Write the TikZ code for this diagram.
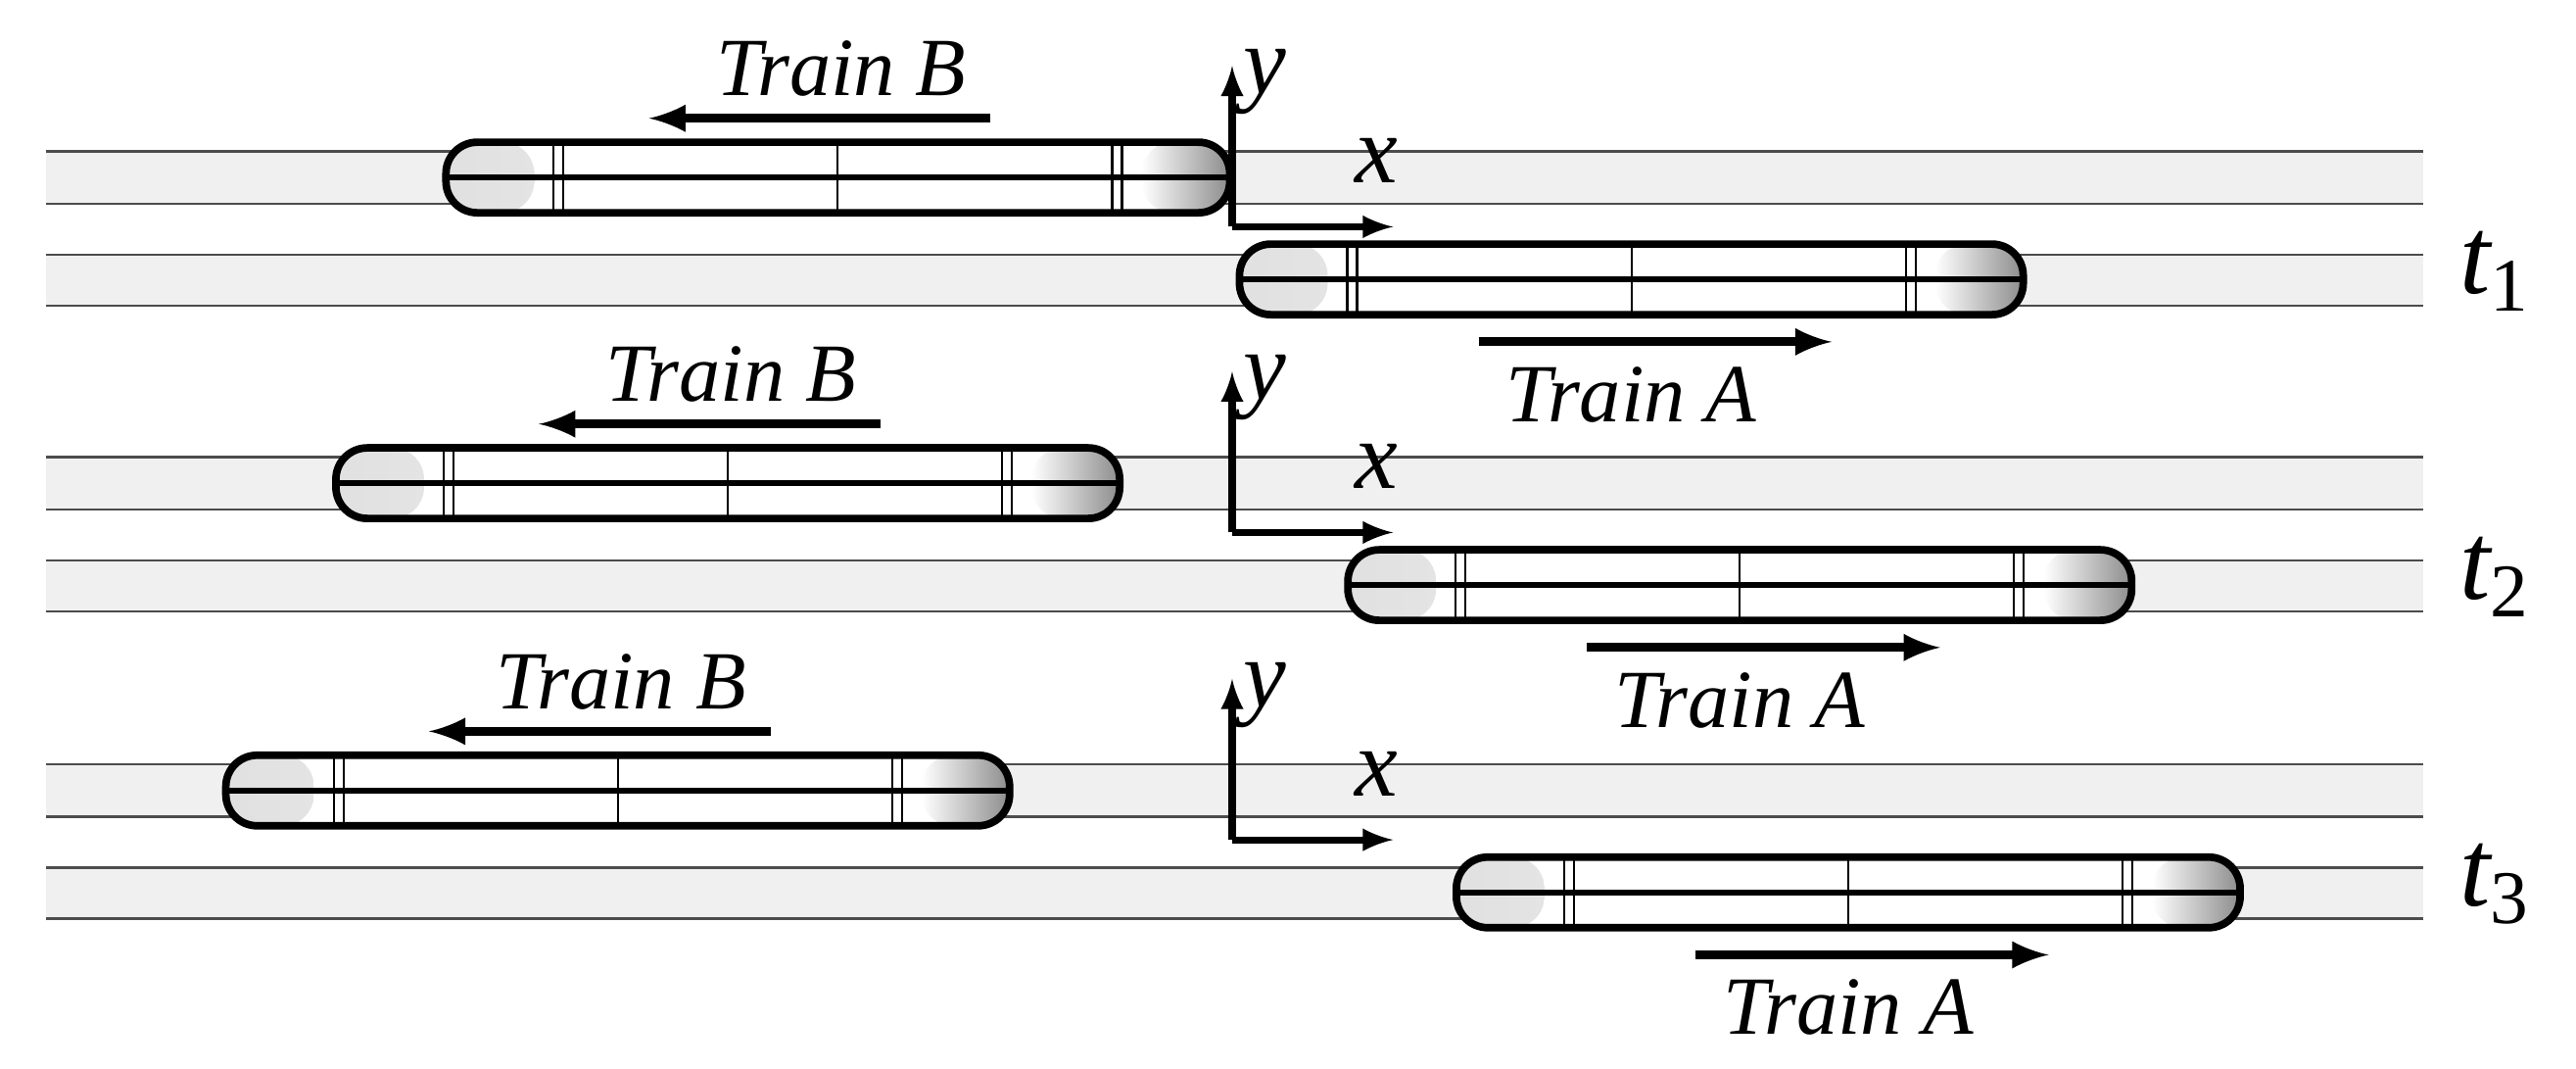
\documentclass[tikz,border=0pt]{standalone}
\usepackage{fontspec}
\setmainfont{Liberation Serif}
\usetikzlibrary{positioning}
\tikzset{
  band/.style={fill=black!6},
  rail/.style={draw=black!70, line width=0.8pt},
  train/.style={draw=black, line width=2.2pt, rounded corners=0.32cm, fill=white,
    minimum width=8cm, minimum height=0.72cm, inner sep=0pt,
    path picture={
      \shade[left color=black!12, right color=white] (path picture bounding box.south west) rectangle ++(0.9cm,0.72cm);
      \shade[left color=white, right color=black!45] (path picture bounding box.north east) rectangle ++(-0.9cm,-0.72cm);
      \draw[line width=1.6pt] (path picture bounding box.west) -- (path picture bounding box.east);
      \foreach \u in {1.1,1.2,6.8,6.9}
        \draw[line width=0.6pt] ([xshift=\u cm]path picture bounding box.south west) -- ++(0cm,0.72cm);
      \draw[line width=0.6pt] (path picture bounding box.south) -- (path picture bounding box.north);
    }},
  move/.style={-latex, line width=2.6pt},
  lbl/.style={font=\itshape\fontsize{24}{26}\selectfont, inner sep=0pt},
  axis/.style={-latex, line width=2pt}
}
\begin{document}
\begin{tikzpicture}[x=0.01677cm, y=-0.01677cm]
  \useasboundingbox (0,0) rectangle (1568,650);
  \foreach \i/\dy/\bx/\ax in {1/0/272/754, 2/186/205/820, 3/373/138/886}{
    % tracks
    \fill[band] (28,92+\dy) rectangle (1475,124+\dy);
    \fill[band] (28,155+\dy) rectangle (1475,186+\dy);
    \foreach \r in {92,124,155,186}
      \draw[rail] (28,\r+\dy) -- (1475,\r+\dy);
    % trains
    \node[train] (trainB\i) at (\bx+238,108+\dy) {};
    \node[train] (trainA\i) at (\ax+239,170+\dy) {};
    % axes
    \coordinate (o\i) at (750,138+\dy);
    \coordinate (ytip\i) at (750,40+\dy);
    \coordinate (xtip\i) at (848,138+\dy);
    \draw[axis] (o\i) -- (ytip\i);
    \draw[axis] (o\i) -- (xtip\i);
    \node[lbl, font=\itshape\fontsize{28}{30}\selectfont] (ylab\i) at (770,50+\dy) {y};
    \node[lbl, font=\itshape\fontsize{28}{30}\selectfont] (xlab\i) at (838,98+\dy) {x};
    % direction arrows
    \coordinate (bs\i) at (\bx+331,72+\dy);
    \coordinate (be\i) at (\bx+123,72+\dy);
    \draw[move] (bs\i) -- (be\i);
    \node[lbl] (labB\i) at (\bx+240,42+\dy) {Train B};
    \coordinate (as\i) at (\ax+146,208+\dy);
    \coordinate (ae\i) at (\ax+361,208+\dy);
    \draw[move] (as\i) -- (ae\i);
    \node[lbl] (labA\i) at (\ax+239,240+\dy) {Train A};
    \node[font=\itshape\fontsize{32}{34}\selectfont, inner sep=0pt] (t\i) at (1518,165+\dy) {t\raisebox{-0.35ex}{\fontsize{22}{24}\selectfont\upshape\i}};
  }
\end{tikzpicture}
\end{document}
